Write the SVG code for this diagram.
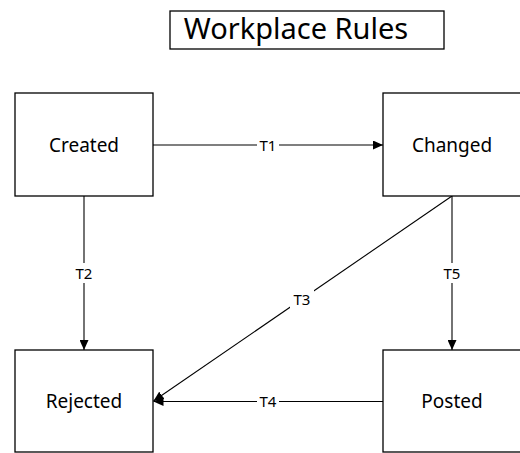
<svg xmlns="http://www.w3.org/2000/svg" width="520" height="453" viewBox="0 0 520 453">
  <defs>
    <marker id="arrow" markerUnits="userSpaceOnUse" markerWidth="10" markerHeight="9" refX="10" refY="4.5" orient="auto">
      <path d="M0,0 L10,4.5 L0,9 Z" fill="#000"/>
    </marker>
    <style>
      .box { fill: #fff; stroke: #000; stroke-width: 1.3; }
      .edge { fill: none; stroke: #000; stroke-width: 1.1; }
      .title { font-family: "Noto Sans", "Open Sans", sans-serif; font-size: 29px; fill: #000; text-anchor: middle; }
      .name { font-family: "Noto Sans", "Open Sans", sans-serif; font-size: 19px; fill: #000; text-anchor: middle; }
      .lbl { font-family: "Noto Sans", "Open Sans", sans-serif; font-size: 15px; fill: #000; text-anchor: middle; }
      .lblbg { fill: #fff; }
    </style>
  </defs>

  <rect width="520" height="453" fill="#fff"/>

  <!-- heading -->
  <g id="title">
    <rect class="box" x="170" y="11" width="274" height="38"/>
    <text class="title" x="296" y="38.5">Workplace Rules</text>
  </g>

  <!-- transitions -->
  <g id="connectors">
    <path class="edge" d="M153,145 H383" marker-end="url(#arrow)"/>
    <path class="edge" d="M84,196 V350" marker-end="url(#arrow)"/>
    <path class="edge" d="M452,196 L153.5,401" marker-end="url(#arrow)"/>
    <path class="edge" d="M383,401.5 H153.5" marker-end="url(#arrow)"/>
    <path class="edge" d="M452,196 V350" marker-end="url(#arrow)"/>

    <rect class="lblbg" x="257" y="137" width="22" height="16"/>
    <text class="lbl" x="268" y="150.5">T1</text>
    <rect class="lblbg" x="73" y="263" width="22" height="20"/>
    <text class="lbl" x="84" y="278.5">T2</text>
    <rect class="lblbg" x="290" y="290" width="24" height="18"/>
    <text class="lbl" x="302" y="304.5">T3</text>
    <rect class="lblbg" x="257" y="394" width="22" height="16"/>
    <text class="lbl" x="268" y="407">T4</text>
    <rect class="lblbg" x="441" y="263" width="22" height="20"/>
    <text class="lbl" x="452" y="278.5">T5</text>
  </g>

  <!-- states -->
  <g id="created">
    <rect class="box" x="15" y="93" width="138" height="103"/>
    <text class="name" x="84" y="151.5">Created</text>
  </g>
  <g id="changed">
    <rect class="box" x="383" y="93" width="140" height="103"/>
    <text class="name" x="452" y="151.5">Changed</text>
  </g>
  <g id="rejected">
    <rect class="box" x="15" y="350" width="138" height="102"/>
    <text class="name" x="84" y="408">Rejected</text>
  </g>
  <g id="posted">
    <rect class="box" x="383" y="350" width="140" height="102"/>
    <text class="name" x="452" y="408">Posted</text>
  </g>
</svg>
